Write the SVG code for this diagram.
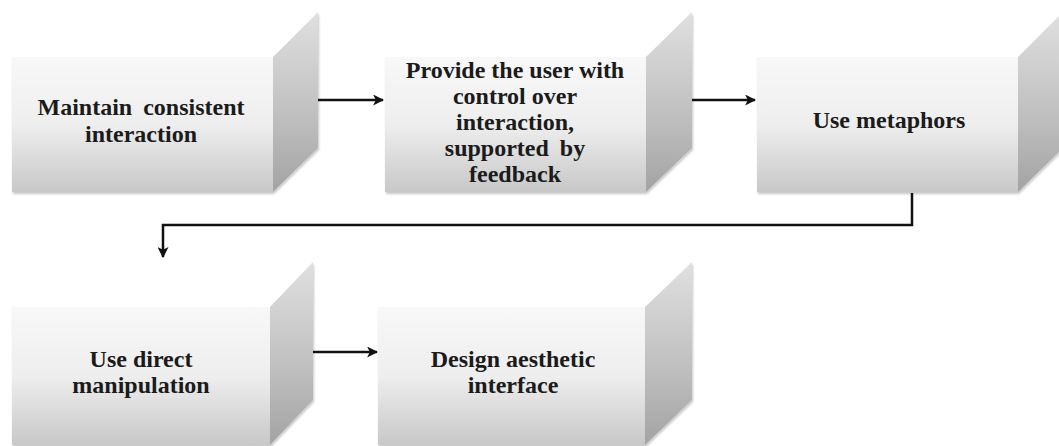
<svg xmlns="http://www.w3.org/2000/svg" width="1059" height="446" viewBox="0 0 1059 446">
  <defs>
    <!-- shading for the visible faces of each block -->
    <linearGradient id="frontFill" x1="0" y1="0" x2="0" y2="1">
      <stop offset="0" stop-color="#f8f8f8"/>
      <stop offset="0.5" stop-color="#eeeeee"/>
      <stop offset="1" stop-color="#c8c8c8"/>
    </linearGradient>
    <linearGradient id="sideFill" x1="0" y1="0" x2="0" y2="1">
      <stop offset="0" stop-color="#e0e0e0"/>
      <stop offset="0.6" stop-color="#bebebe"/>
      <stop offset="1" stop-color="#a3a3a3"/>
    </linearGradient>
    <filter id="soft" x="-5%" y="-5%" width="115%" height="115%">
      <feDropShadow dx="1" dy="2" stdDeviation="1.2" flood-color="#000" flood-opacity="0.22"/>
    </filter>
    <marker id="arrow" viewBox="0 0 10 10" refX="9" refY="5" markerWidth="4.4" markerHeight="4.4" orient="auto" markerUnits="strokeWidth">
      <path d="M0,0 L10,5 L0,10 L2.5,5 z" fill="#111"/>
    </marker>
  </defs>
  <style>
    .front { fill: url(#frontFill); }
    .side { fill: url(#sideFill); }
    .label { font-family: "Liberation Serif", "Times New Roman", "DejaVu Serif", serif; font-weight: bold; font-size: 24px; fill: #1b1b1b; text-anchor: middle; }
    .link { fill: none; stroke: #111; stroke-width: 2.5; marker-end: url(#arrow); }
  </style>

  <rect width="1059" height="446" fill="#ffffff"/>

  <!-- Block 1 -->
  <g id="consistent">
    <g filter="url(#soft)">
      <rect class="front" x="12" y="57" width="261" height="135"/>
      <polygon class="side" points="273,57 318,12 318,148 273,192"/>
    </g>
    <text class="label" x="141" y="115" word-spacing="5">Maintain consistent</text>
    <text class="label" x="141" y="142">interaction</text>
  </g>

  <!-- Block 2 -->
  <g id="control">
    <g filter="url(#soft)">
      <rect class="front" x="385" y="57" width="261" height="135"/>
      <polygon class="side" points="646,57 692,12 692,148 646,192"/>
    </g>
    <text class="label" x="515" y="78">Provide the user with</text>
    <text class="label" x="515" y="104">control over</text>
    <text class="label" x="515" y="130">interaction,</text>
    <text class="label" x="515" y="156" word-spacing="5">supported by</text>
    <text class="label" x="515" y="182">feedback</text>
  </g>

  <!-- Block 3 -->
  <g id="metaphors">
    <g filter="url(#soft)">
      <rect class="front" x="757" y="57" width="261" height="135"/>
      <polygon class="side" points="1018,57 1063,12 1063,148 1018,192"/>
    </g>
    <text class="label" x="889" y="128">Use metaphors</text>
  </g>

  <!-- Block 4 -->
  <g id="direct">
    <g filter="url(#soft)">
      <rect class="front" x="12" y="307" width="258" height="138"/>
      <polygon class="side" points="270,307 313,262 313,400 270,445"/>
    </g>
    <text class="label" x="141" y="367">Use direct</text>
    <text class="label" x="141" y="393">manipulation</text>
  </g>

  <!-- Block 5 -->
  <g id="aesthetic">
    <g filter="url(#soft)">
      <rect class="front" x="378" y="307" width="267" height="138"/>
      <polygon class="side" points="645,307 692,262 692,400 645,445"/>
    </g>
    <text class="label" x="513" y="367">Design aesthetic</text>
    <text class="label" x="513" y="393">interface</text>
  </g>

  <!-- Connectors -->
  <g id="connectors">
    <line class="link" x1="318" y1="100" x2="383" y2="100"/>
    <line class="link" x1="692" y1="100" x2="755" y2="100"/>
    <path class="link" d="M912,193 V225 H163 V257"/>
    <line class="link" x1="313" y1="352" x2="377" y2="352"/>
  </g>
</svg>
